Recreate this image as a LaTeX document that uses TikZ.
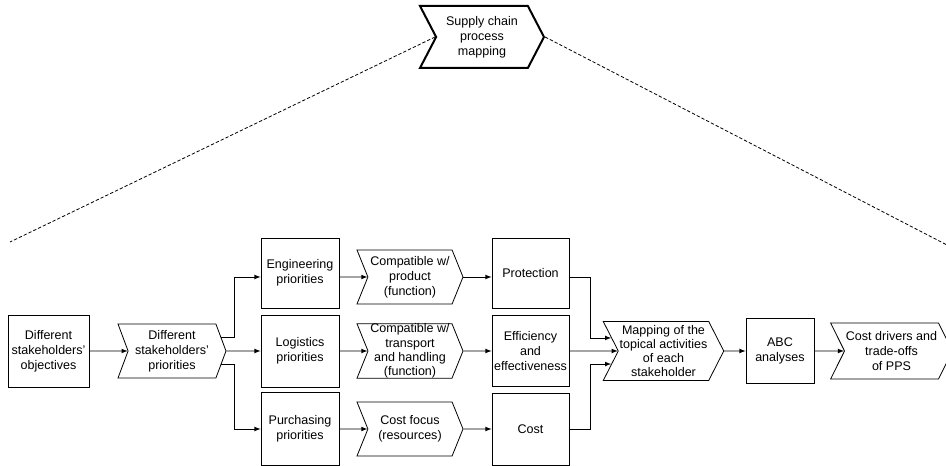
\documentclass[tikz,border=0pt]{standalone}
\usepackage{fontspec}
\setmainfont{Liberation Sans}
\usepackage{tikz}
\usetikzlibrary{arrows}
\usetikzlibrary{shapes.symbols}
\tikzstyle{graph}=[x=0.75pt, y=-0.75pt, font=\fontsize{9.4pt}{11.25pt}\selectfont]
\tikzstyle{box}=[rectangle, draw, line width=0.6pt, inner sep=1pt, align=center]
\tikzstyle{chev}=[signal, signal from=west, signal to=east, draw, line width=0.6pt, inner sep=1pt, align=center]
\tikzstyle{overview}=[chev, line width=1.5pt, signal pointer angle=125]
\tikzstyle{edge}=[line width=0.6pt, -latex]
\tikzstyle{zoom}=[line width=0.6pt, dash pattern=on 2.5pt off 1.5pt]
\tikzstyle{tight}=[inner ysep=0pt, font=\fontsize{9.4pt}{10.7pt}\selectfont]

\begin{document}
\begin{tikzpicture}[graph]
	\useasboundingbox (0,0) rectangle (946,466);
	\draw (482,37) node[overview, minimum width=93pt, minimum height=46.5pt] (scpm) {Supply chain\\process\\mapping};
	\coordinate (zl) at (10,242);
	\coordinate (zr) at (947,245);
	\draw[zoom] (scpm.180) -- (zl);
	\draw[zoom] (scpm.0) -- (zr);
	% stakeholders
	\draw (48.5,351) node[box, minimum width=60.75pt, minimum height=54pt] (obj) {Different\\stakeholders'\\objectives};
	\draw (172,351) node[chev, signal pointer angle=139, minimum width=81pt, minimum height=40.5pt] (pri) {Different\\stakeholders'\\priorities};
	% priorities
	\draw (300,273) node[box, minimum width=58.5pt, minimum height=52.5pt] (eng) {Engineering\\priorities};
	\draw (300,351) node[box, minimum width=58.5pt, minimum height=54pt] (log) {Logistics\\priorities};
	\draw (300,428.5) node[box, minimum width=58.5pt, minimum height=54.75pt] (pur) {Purchasing\\priorities};
	\draw (410,277) node[chev, signal pointer angle=136, minimum width=79.5pt, minimum height=40.5pt] (cp1) {Compatible w/\\product\\(function)};
	\draw (410,351) node[chev, tight, signal pointer angle=136, minimum width=79.5pt, minimum height=40.5pt] (cp2) {Compatible w/\\transport\\and handling\\(function)};
	\draw (410,429) node[chev, signal pointer angle=136, minimum width=79.5pt, minimum height=40.5pt] (cp3) {Cost focus\\(resources)};
	% goals
	\draw (530.5,273) node[box, minimum width=57.75pt, minimum height=52.5pt] (prot) {Protection};
	\draw (530.5,351) node[box, minimum width=57.75pt, minimum height=53.25pt] (eff) {Efficiency\\and\\effectiveness};
	\draw (530.5,429) node[box, minimum width=57.75pt, minimum height=54pt] (cost) {Cost};
	\draw (663.5,351) node[chev, tight, signal pointer angle=126, minimum width=87.75pt, minimum height=44.25pt] (map) {Mapping of the\\topical activities\\of each\\stakeholder};
	\draw (780,351) node[box, minimum width=51pt, minimum height=48.75pt] (abc) {ABC\\analyses};
	\draw (891.5,351) node[chev, signal pointer angle=127, minimum width=84.75pt, minimum height=42pt] (cd) {Cost drivers and\\trade-offs\\of PPS};

	\draw[edge] (obj.east) -- (pri.180);
	\draw[edge] (pri.15) -- ++(13,0) |- (eng.west |- cp1);
	\draw[edge] (pri.0) -- (log.west);
	\draw[edge] (pri.-15) -- ++(13,0) |- (pur.west |- cp3);
	\draw[edge] (eng.east |- cp1) -- (cp1.180);
	\draw[edge] (log.east) -- (cp2.180);
	\draw[edge] (pur.east |- cp3) -- (cp3.180);
	\draw[edge] (cp1.0) -- (cp1.0 -| prot.west);
	\draw[edge] (cp2.0) -- (eff.west);
	\draw[edge] (cp3.0) -- (cost.west);
	\draw[edge] (prot.east |- cp1) -- ++(21,0) |- (map.166);
	\draw[edge] (eff.east) -- (map.180);
	\draw[edge] (cost.east) -- ++(21,0) |- (map.194);
	\draw[edge] (map.0) -- (abc.west);
	\draw[edge] (abc.east) -- (cd.180);
\end{tikzpicture}
\end{document}
